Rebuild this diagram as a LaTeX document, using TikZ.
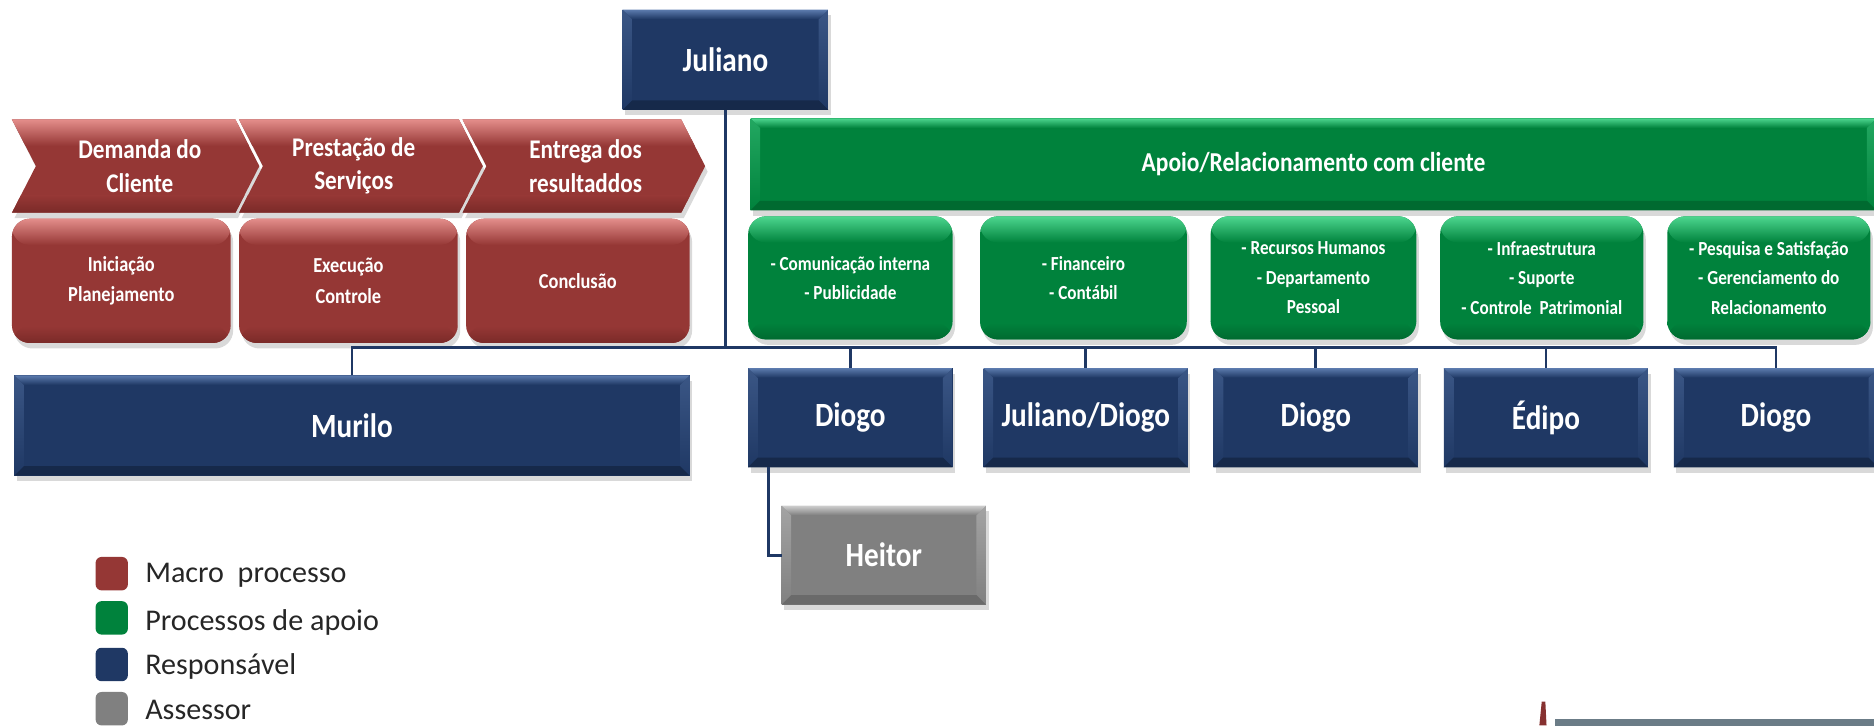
\documentclass[tikz,border=0pt]{standalone}
\usepackage{fontspec}
\setmainfont{Carlito}
\newfontfamily\condf[FakeStretch=0.86]{Carlito}
\usetikzlibrary{shadows,calc}
\definecolor{cNavy}{HTML}{1F3864}
\definecolor{cNavyL}{HTML}{5C7BAE}
\definecolor{cNavyD}{HTML}{16294A}
\definecolor{cRed}{HTML}{953735}
\definecolor{cRedL}{HTML}{E38D8A}
\definecolor{cRedD}{HTML}{7A2A28}
\definecolor{cGrn}{HTML}{00823C}
\definecolor{cGrnL}{HTML}{4DD68F}
\definecolor{cGrnD}{HTML}{006A30}
\definecolor{cGry}{HTML}{808080}
\definecolor{cGryL}{HTML}{CFCFCF}
\definecolor{cGryD}{HTML}{6A6A6A}
\definecolor{cBar}{HTML}{6B7C87}
\tikzset{
  sz/.style 2 args={minimum width=#1*0.12mm, minimum height=#2*0.12mm},
  shad/.style={drop shadow={shadow xshift=0.25mm, shadow yshift=-0.55mm, opacity=0.3}},
  bevel/.style n args={3}{path picture={
     \path (path picture bounding box.north west) coordinate (pa)
           (path picture bounding box.north east) coordinate (pb)
           (path picture bounding box.south east) coordinate (pc)
           (path picture bounding box.south west) coordinate (pd);
     \shade[top color=#2!45!#1, bottom color=#1] (pa) -- ([shift={(8,8)}]pa) -- ([shift={(8,-8)}]pd) -- (pd) -- cycle;
     \shade[top color=#2!45!#1, bottom color=#1] (pb) -- ([shift={(-8,8)}]pb) -- ([shift={(-8,-8)}]pc) -- (pc) -- cycle;
     \fill[#3] (pd) -- ([shift={(8,-8)}]pd) -- ([shift={(-8,-8)}]pc) -- (pc) -- cycle;
     \shade[top color=#2, bottom color=#1] (pa) -- (pb) -- ([shift={(-8,8)}]pb) -- ([shift={(8,8)}]pa) -- cycle;
  }},
  roundbev/.style n args={3}{path picture={
     \path (path picture bounding box.north west) coordinate (pa)
           (path picture bounding box.north east) coordinate (pb)
           (path picture bounding box.south east) coordinate (pc)
           (path picture bounding box.south west) coordinate (pd);
     \shade[top color=#2, bottom color=#1] (pa) rectangle ([shift={(0,22)}]pb);
     \shade[top color=#1, bottom color=#3] ([shift={(0,-14)}]pd) rectangle (pc);
  }},
  navybox/.style={rectangle, inner sep=0pt, outer sep=0pt, fill=cNavy, shad, bevel={cNavy}{cNavyL}{cNavyD},
     text=white, font=\condf\bfseries\fontsize{9.7}{11}\selectfont},
  graybox/.style={rectangle, inner sep=0pt, outer sep=0pt, fill=cGry, shad, bevel={cGry}{cGryL}{cGryD},
     text=white, font=\condf\bfseries\fontsize{9.7}{11}\selectfont},
  greenbar/.style={rectangle, inner sep=0pt, outer sep=0pt, fill=cGrn, shad, bevel={cGrn}{cGrnL}{cGrnD},
     text=white, font=\condf\bfseries\fontsize{7.8}{9}\selectfont},
  redround/.style={rectangle, inner sep=0pt, outer sep=0pt, rounded corners=1.8mm, fill=cRed, shad,
     roundbev={cRed}{cRedL}{cRedD}, text=white, align=center, font=\condf\bfseries\fontsize{6.1}{8.8}\selectfont},
  greenround/.style={rectangle, inner sep=0pt, outer sep=0pt, rounded corners=1.8mm, fill=cGrn, shad,
     roundbev={cGrn}{cGrnL}{cGrnD}, text=white, align=center, font=\condf\bfseries\fontsize{5.7}{8.4}\selectfont},
  chev/.style={fill=cRed, shad, roundbev={cRed}{cRedL}{cRedD}},
  chevtext/.style={inner sep=0pt, text=white, align=center, font=\condf\bfseries\fontsize{7.7}{9.5}\selectfont},
  legsw/.style={rectangle, inner sep=0pt, rounded corners=0.6mm, sz={27}{28}},
  legtext/.style={anchor=west, inner sep=0pt, text=black!85, font=\fontsize{8.6}{10}\selectfont},
  conn/.style={draw=cNavy, line width=0.8pt},
}
\begin{document}
\begin{tikzpicture}[x=0.12mm, y=-0.12mm]
\useasboundingbox (0,0) rectangle (1568,607);

% chevrons
\path[chev] (10,100) -- (197,100) -- (217,139) -- (197,178) -- (10,178) -- (30,139) -- cycle;
\path[chev] (200,100) -- (384,100) -- (404,139) -- (384,178) -- (200,178) -- (220,139) -- cycle;
\path[chev] (387,100) -- (570,100) -- (590,139) -- (570,178) -- (387,178) -- (407,139) -- cycle;
\node[chevtext] (c1) at (117,139) {Demanda do\\Cliente};
\node[chevtext] (c2) at (296,139) {Prestação de\\Serviços};
\node[chevtext] (c3) at (490,139) {Entrega dos\\resultaddos};

% red rounded boxes
\node[redround, sz={183}{104}] (r1) at (101.5,235) {Iniciação\\Planejamento};
\node[redround, sz={183}{104}] (r2) at (291.5,235) {Execução\\Controle};
\node[redround, sz={187}{104}] (r3) at (483.5,235) {Conclusão};

% top
\node[navybox, sz={172}{84}] (jul) at (607,50) {Juliano};

% green bar and boxes
\node[greenbar, sz={942}{77}] (apoio) at (1099,137.5) {Apoio/Relacionamento com cliente};
\node[greenround, sz={171}{103}] (g1) at (711.5,232.5) {- Comunicação interna\\- Publicidade};
\node[greenround, sz={173}{103}] (g2) at (906.5,232.5) {- Financeiro\\- Contábil};
\node[greenround, sz={172}{103}] (g3) at (1099,232.5) {- Recursos Humanos\\- Departamento\\Pessoal};
\node[greenround, sz={170}{103}] (g4) at (1290,232.5) {- Infraestrutura\\- Suporte\\- Controle\ \ Patrimonial};
\node[greenround, sz={170}{103}] (g5) at (1480,232.5) {- Pesquisa e Satisfação\\- Gerenciamento do\\Relacionamento};

% responsible boxes
\node[navybox, sz={565}{84}] (murilo) at (294.5,356) {Murilo};
\node[navybox, sz={171}{83}] (d1) at (711.5,349.5) {Diogo};
\node[navybox, sz={171}{83}] (d2) at (908.5,349.5) {Juliano/Diogo};
\node[navybox, sz={171}{83}] (d3) at (1101,349.5) {Diogo};
\node[navybox, sz={171}{83}] (d4) at (1293.5,349.5) {Édipo};
\node[navybox, sz={171}{83}] (d5) at (1486,349.5) {Diogo};
\node[graybox, sz={171}{83}] (heitor) at (739.5,464.5) {Heitor};

% connectors
\coordinate (bus) at (0,291);
\draw[conn] (jul.south) -- (jul.south |- bus);
\draw[conn] (murilo.north) -- (murilo.north |- bus) -- (d5.north |- bus) -- (d5.north);
\foreach \n in {d1,d2,d3,d4} \draw[conn] (\n.north |- bus) -- (\n.north);
\draw[conn] ($(d1.south west)+(17,0)$) |- (heitor.west);

% legend
\node[legsw, fill=cRed] (l1) at (93.5,480) {};
\node[legsw, fill=cGrn] (l2) at (93.5,517) {};
\node[legsw, fill=cNavy] (l3) at (93.5,556) {};
\node[legsw, fill=cGry] (l4) at (93.5,593) {};
\node[legtext] (t1) at (121,481) {Macro\ \ processo};
\node[legtext] (t2) at (121,521) {Processos de apoio};
\node[legtext] (t3) at (121,558) {Responsável};
\node[legtext] (t4) at (121,594) {Assessor};

% bottom-right fragments
\fill[cRed!90!black] (1288,607) -- (1290,587) -- (1293,587) -- (1294,607) -- cycle;
\fill[cBar] (1301,602) rectangle (1570,609);
\end{tikzpicture}
\end{document}
